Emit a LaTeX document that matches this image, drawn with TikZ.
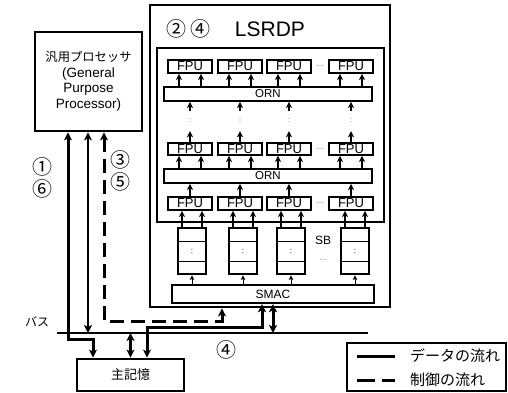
\documentclass[tikz,border=0pt]{standalone}
\usepackage{fontspec}
\setmainfont{Liberation Sans}
\newfontfamily\jpfont{Noto Sans CJK JP}
\usetikzlibrary{arrows.meta,positioning}
\tikzset{
  bigbox/.style={draw, line width=2.8pt, inner sep=0pt},
  unit/.style={draw, line width=1.8pt, inner sep=0pt, minimum width=44pt, minimum height=13pt, font=\fontsize{13}{13}\selectfont},
  net/.style={draw, line width=1.8pt, inner sep=0pt, minimum width=208pt, minimum height=14pt, font=\fontsize{11.5}{11.5}\selectfont},
  buffer/.style={draw, line width=2.8pt, inner sep=0pt, minimum width=28pt, minimum height=46pt, font=\fontsize{8}{8}\selectfont},
  more/.style={inner sep=0pt, text=darkgray, font=\fontsize{7}{7}\selectfont},
  num/.style={inner sep=0pt, font=\jpfont\fontsize{20}{20}\selectfont},
  flow/.style={-{Stealth[length=6pt,width=6pt,inset=1.5pt]}, line width=1.8pt},
  feed/.style={-{Stealth[length=4.5pt,width=4.5pt,inset=1pt]}, line width=0.9pt},
  dataflow/.style={{Stealth[length=8pt,width=8pt,inset=2pt]}-{Stealth[length=8pt,width=8pt,inset=2pt]}, line width=3pt},
  thindata/.style={dataflow, line width=1.8pt},
  ctrl/.style={dataflow, dash pattern=on 14pt off 7pt},
  bus/.style={line width=2pt},
  keytext/.style={anchor=west, inner sep=0pt, font=\jpfont\fontsize{15}{15}\selectfont}
}

\begin{document}
\begin{tikzpicture}[x=1pt, y=-1pt]
\useasboundingbox (0,0) rectangle (508,393);

% processor and main memory
\node[bigbox, minimum width=107pt, minimum height=99pt, align=center, font=\fontsize{13.5}{15.5}\selectfont] (proc) at (88.5,81.5)
  {{\jpfont\fontsize{12.3}{15.5}\selectfont 汎用プロセッサ}\\(General\\Purpose\\Processor)};
\node[bigbox, minimum width=107pt, minimum height=32pt, font=\jpfont\fontsize{13}{13}\selectfont] (mem) at (130.5,375) {主記憶};

% LSRDP
\node[bigbox, minimum width=240pt, minimum height=302pt] (lsrdp) at (270,156) {};
\node[inner sep=0pt, font=\fontsize{21}{21}\selectfont] (title) at (270,29.5) {LSRDP};
\node[num] (steps) at (188,29) {②\hspace{4pt}④};
\node[bigbox, minimum width=227pt, minimum height=174pt] (core) at (270.5,135) {};
\node[net] (orn1) at (268,94) {ORN};
\node[net] (orn2) at (268,176) {ORN};
\node[bigbox, line width=2.4pt, minimum width=202pt, minimum height=18pt, font=\fontsize{12}{12}\selectfont] (smac) at (273,294) {SMAC};

\foreach \i/\x/\s in {1/190/192,2/240/243,3/289/291,4/351/355}{
  \node[unit] (fpu1-\i) at (\x,66.5) {FPU};
  \node[unit, minimum height=12pt] (fpu2-\i) at (\x,149) {FPU};
  \node[unit] (fpu3-\i) at (\x,203.5) {FPU};
  \node[more, minimum height=20pt] (skip\i) at (\x,121) {:};
  \node[buffer] (sb\i) at (\s,251) {:};
  \draw[line width=0.8pt] ([yshift=10pt]sb\i.west) -- ([yshift=10pt]sb\i.east)
    ([yshift=-10pt]sb\i.west) -- ([yshift=-10pt]sb\i.east);
  \path ([xshift=-11pt]fpu1-\i.south) coordinate (ua\i)
        ([xshift=11pt]fpu1-\i.south) coordinate (ub\i)
        ([xshift=-11pt]fpu2-\i.south) coordinate (va\i)
        ([xshift=11pt]fpu2-\i.south) coordinate (vb\i)
        ([xshift=-10pt]sb\i.north) coordinate (wa\i)
        ([xshift=10pt]sb\i.north) coordinate (wb\i);
  % two operands into every FPU
  \draw[flow] (ua\i |- orn1.north) -- (ua\i);
  \draw[flow] (ub\i |- orn1.north) -- (ub\i);
  \draw[flow] (va\i |- orn2.north) -- (va\i);
  \draw[flow] (vb\i |- orn2.north) -- (vb\i);
  \draw[flow] (wa\i) -- (wa\i |- fpu3-\i.south);
  \draw[flow] (wb\i) -- (wb\i |- fpu3-\i.south);
  % results go up through the ORN
  \draw[flow] (fpu3-\i.north) -- (fpu3-\i.north |- orn2.south);
  \draw[flow] (fpu2-\i.north) -- (skip\i.south);
  \draw[flow] (skip\i.north) -- (skip\i.north |- orn1.south);
  \draw[feed] (sb\i.south |- smac.north) -- (sb\i.south);
}
\node[more] (gap1) at (320,66.5) {…};
\node[more] (gap2) at (320,149) {…};
\node[more] (gap3) at (320,203.5) {…};
\node[inner sep=0pt, font=\fontsize{12}{12}\selectfont] (sblabel) at (323,240) {SB};
\node[more] (sbgap) at (323,260) {…};

% bus
\coordinate (busL) at (57,333);
\coordinate (busR) at (368,333);
\draw[bus] (busL) -- (busR);
\node[inner sep=0pt, font=\jpfont\fontsize{12}{12}\selectfont] (buslabel) at (37,322) {バス};

\coordinate (pA) at ([xshift=-20.5pt]proc.south);
\coordinate (pB) at ([xshift=-0.5pt]proc.south);
\coordinate (pC) at ([xshift=15.5pt]proc.south);
\coordinate (mA) at ([xshift=-37.5pt]mem.north);
\coordinate (mB) at ([xshift=16.5pt]mem.north);
\coordinate (sA) at ([xshift=-11pt]smac.south);
\coordinate (lA) at ([xshift=-48pt]lsrdp.south);
\coordinate (lane) at (0,327);
\coordinate (turn) at (0,339);
\coordinate (ctl) at (0,321);

\draw[dataflow] (pA) -- (pA |- turn) -| (mA);
\draw[thindata] (pB) -- (pB |- busL);
\draw[ctrl] (pC) -- (pC |- ctl) -| (lA);
\draw[dataflow] (mB) -- (mB |- lane) -| (sA);
\draw[dataflow] (mem.north |- busL) -- (mem.north);
\draw[dataflow] (smac.south) -- (smac.south |- busL);

\node[num] (s1) at (42,167) {①};
\node[num] (s6) at (42,189) {⑥};
\node[num] (s3) at (120,160) {③};
\node[num] (s5) at (120,182) {⑤};
\node[num] (s4) at (226,350) {④};

% legend
\node[draw, line width=2.4pt, inner sep=0pt, minimum width=159pt, minimum height=48pt] (legend) at (426.5,367) {};
\draw[line width=3pt] (357,356) -- (395,356);
\draw[line width=3pt, dash pattern=on 18pt off 7pt] (357,380) -- (395,380);
\node[keytext] (keydata) at (410,356) {データの流れ};
\node[keytext] (keyctrl) at (410,380) {制御の流れ};
\end{tikzpicture}
\end{document}
